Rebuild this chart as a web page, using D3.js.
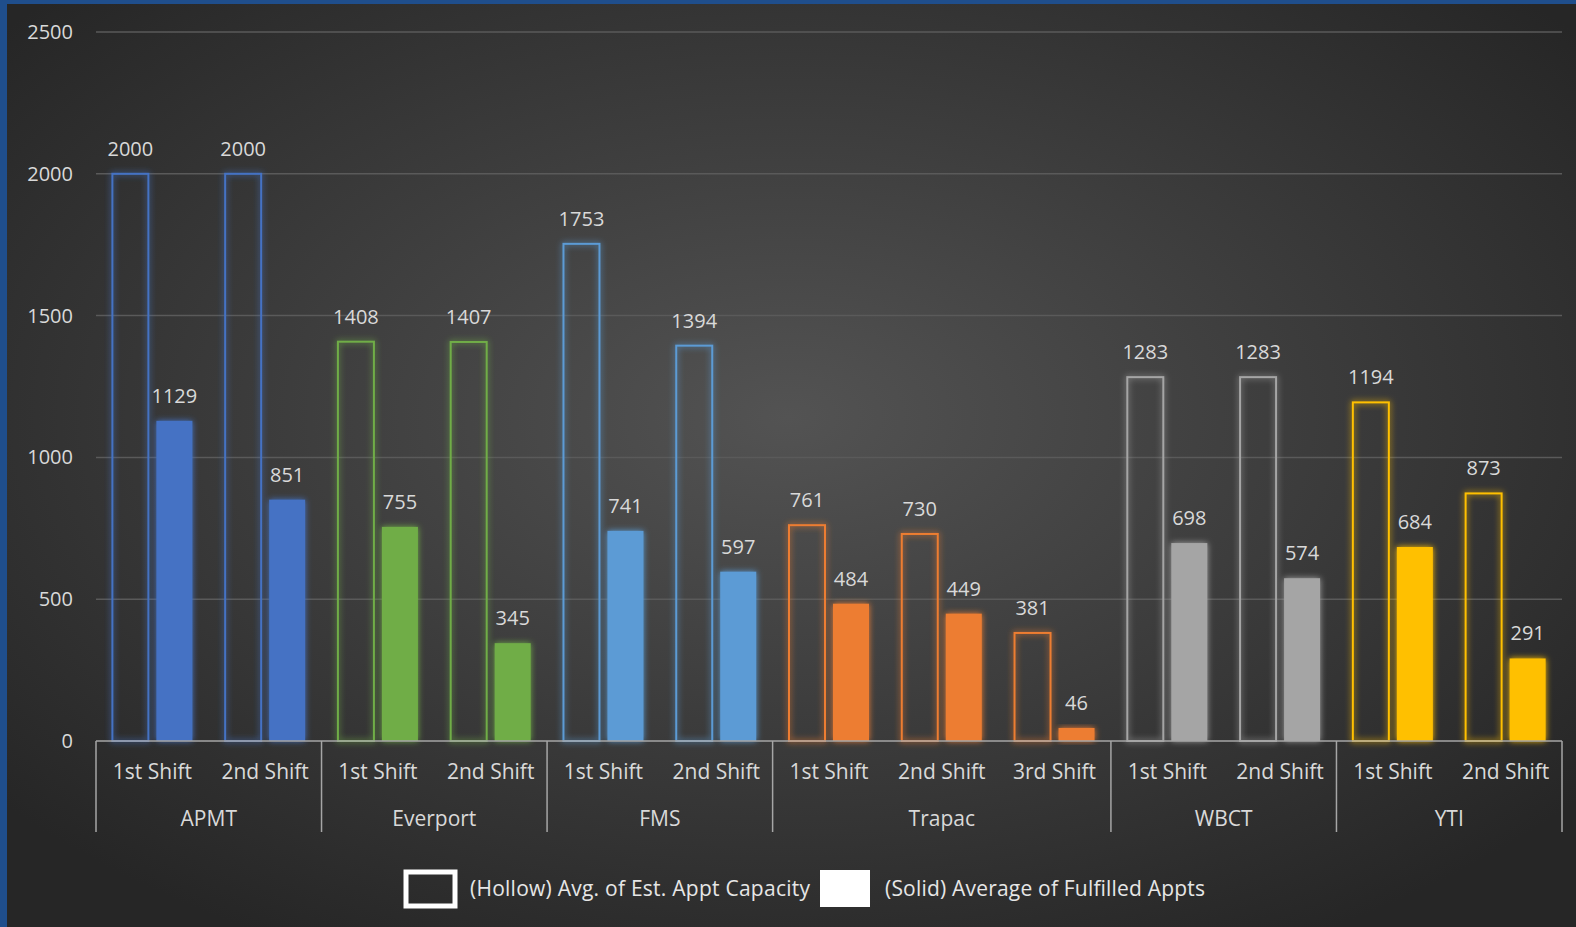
<!DOCTYPE html>
<html lang="en">
<head>
  <meta charset="UTF-8" />
  <title>Appointment Capacity vs Fulfilled</title>
  <script src="https://d3js.org/d3.v7.min.js"></script>
  <style>
    body { margin: 0; padding: 0; background: #2b2b2b; overflow: hidden; }
    svg { display: block; font-family: "Open Sans", "Noto Sans", sans-serif; }
  </style>
</head>
<body>
  <svg id="chart" width="1576" height="927"></svg>
  <script>
    // data
    const terminals = ["APMT", "Everport", "FMS", "Trapac", "WBCT", "YTI"];
    const terminalColors = ["#4472c4", "#70ad47", "#5b9bd5", "#ed7d31", "#a5a5a5", "#ffc000"];
    const shiftTerminal = ["APMT", "APMT", "Everport", "Everport", "FMS", "FMS", "Trapac", "Trapac", "Trapac", "WBCT", "WBCT", "YTI", "YTI"];
    const shiftNames = ["1st Shift", "2nd Shift", "1st Shift", "2nd Shift", "1st Shift", "2nd Shift", "1st Shift", "2nd Shift", "3rd Shift", "1st Shift", "2nd Shift", "1st Shift", "2nd Shift"];
    const capacity = [2000, 2000, 1408, 1407, 1753, 1394, 761, 730, 381, 1283, 1283, 1194, 873];
    const fulfilled = [1129, 851, 755, 345, 741, 597, 484, 449, 46, 698, 574, 684, 291];
    const yTicks = [0, 500, 1000, 1500, 2000, 2500];

    const W = 1576, H = 927;
    const svg = d3.select("#chart");
    const defs = svg.append("defs");

    const bg = defs.append("radialGradient").attr("id", "bg")
      .attr("cx", "50%").attr("cy", "45%").attr("r", "65%");
    bg.append("stop").attr("offset", "0%").attr("stop-color", "#535353");
    bg.append("stop").attr("offset", "100%").attr("stop-color", "#262626");

    const glow = defs.append("filter").attr("id", "glow")
      .attr("x", "-30%").attr("y", "-30%").attr("width", "160%").attr("height", "160%");
    glow.append("feGaussianBlur").attr("stdDeviation", 3).attr("result", "b");
    const fm = glow.append("feMerge");
    fm.append("feMergeNode").attr("in", "b");
    fm.append("feMergeNode").attr("in", "SourceGraphic");

    svg.append("rect").attr("width", W).attr("height", H).attr("fill", "url(#bg)");
    svg.append("rect").attr("width", 7).attr("height", H).attr("fill", "#1f4e8c");
    svg.append("rect").attr("width", W).attr("height", 4).attr("fill", "#1f4e8c");

    const plotL = 96, plotR = 1562, plotT = 32, base = 741;
    const idx = d3.range(shiftNames.length);
    const x = d3.scaleBand().domain(idx).range([plotL, plotR]);
    const y = d3.scaleLinear().domain([0, 2500]).range([base, plotT]);
    const color = d3.scaleOrdinal().domain(terminals).range(terminalColors);
    const barW = 36, gap = 8;

    // grid
    svg.append("g").selectAll("line").data(yTicks.slice(1)).join("line")
      .attr("x1", plotL).attr("x2", plotR)
      .attr("y1", d => y(d)).attr("y2", d => y(d))
      .attr("stroke", "#5a5a5a").attr("stroke-width", 1.5);

    // y axis labels
    const yAxis = svg.append("g").attr("transform", `translate(${plotL},0)`)
      .call(d3.axisLeft(y).tickValues(yTicks).tickFormat(d3.format("d")).tickSize(0).tickPadding(23));
    yAxis.select(".domain").remove();
    yAxis.selectAll("text").attr("fill", "#d9d9d9").attr("font-size", 20)
      .attr("font-family", "'Open Sans', sans-serif");

    const bars = svg.append("g");
    const cx = i => x(i) + x.bandwidth() / 2;

    // hollow capacity bars
    bars.selectAll(".cap").data(idx).join("rect")
      .attr("x", i => cx(i) - gap / 2 - barW)
      .attr("y", i => y(capacity[i]))
      .attr("width", barW)
      .attr("height", i => base - y(capacity[i]))
      .attr("fill", "none")
      .attr("stroke", i => color(shiftTerminal[i]))
      .attr("stroke-width", 2)
      .attr("filter", "url(#glow)");

    // solid fulfilled bars
    bars.selectAll(".ful").data(idx).join("rect")
      .attr("x", i => cx(i) + gap / 2)
      .attr("y", i => y(fulfilled[i]))
      .attr("width", barW)
      .attr("height", i => base - y(fulfilled[i]))
      .attr("fill", i => color(shiftTerminal[i]))
      .attr("filter", "url(#glow)");

    // data labels
    const lbl = svg.append("g").attr("fill", "#d9d9d9").attr("font-size", 20).attr("text-anchor", "middle");
    lbl.selectAll(".lc").data(idx).join("text")
      .attr("x", i => cx(i) - gap / 2 - barW / 2)
      .attr("y", i => y(capacity[i]) - 18)
      .text(i => capacity[i]);
    lbl.selectAll(".lf").data(idx).join("text")
      .attr("x", i => cx(i) + gap / 2 + barW / 2)
      .attr("y", i => y(fulfilled[i]) - 18)
      .text(i => fulfilled[i]);

    // x axis
    const axisG = svg.append("g");
    axisG.append("line").attr("x1", plotL).attr("x2", plotR).attr("y1", base).attr("y2", base)
      .attr("stroke", "#a6a6a6").attr("stroke-width", 1.5);

    const groups = terminals.map(t => {
      const members = idx.filter(i => shiftTerminal[i] === t);
      return { name: t, x0: x(members[0]), x1: x(members[members.length - 1]) + x.bandwidth() };
    });
    const seps = [plotL].concat(groups.map(g => g.x1));
    axisG.selectAll(".sep").data(seps).join("line")
      .attr("x1", d => d).attr("x2", d => d)
      .attr("y1", base).attr("y2", 832)
      .attr("stroke", "#a6a6a6").attr("stroke-width", 1.5);

    axisG.selectAll(".shift").data(idx).join("text")
      .attr("x", i => cx(i)).attr("y", 779)
      .attr("text-anchor", "middle").attr("fill", "#d9d9d9").attr("font-size", 21)
      .text(i => shiftNames[i]);
    axisG.selectAll(".grp").data(groups).join("text")
      .attr("x", g => (g.x0 + g.x1) / 2).attr("y", 826)
      .attr("text-anchor", "middle").attr("fill", "#d9d9d9").attr("font-size", 21)
      .text(g => g.name);

    // legend
    const leg = svg.append("g").attr("font-size", 21).attr("fill", "#e6e6e6");
    leg.append("rect").attr("x", 406).attr("y", 872).attr("width", 49).attr("height", 34)
      .attr("fill", "none").attr("stroke", "#ffffff").attr("stroke-width", 5);
    leg.append("text").attr("x", 470).attr("y", 896).attr("textLength", 340)
      .text("(Hollow) Avg. of Est. Appt Capacity");
    leg.append("rect").attr("x", 820).attr("y", 870).attr("width", 50).attr("height", 37).attr("fill", "#ffffff");
    leg.append("text").attr("x", 885).attr("y", 896).attr("textLength", 320)
      .text("(Solid) Average of Fulfilled Appts");
  </script>
</body>
</html>
